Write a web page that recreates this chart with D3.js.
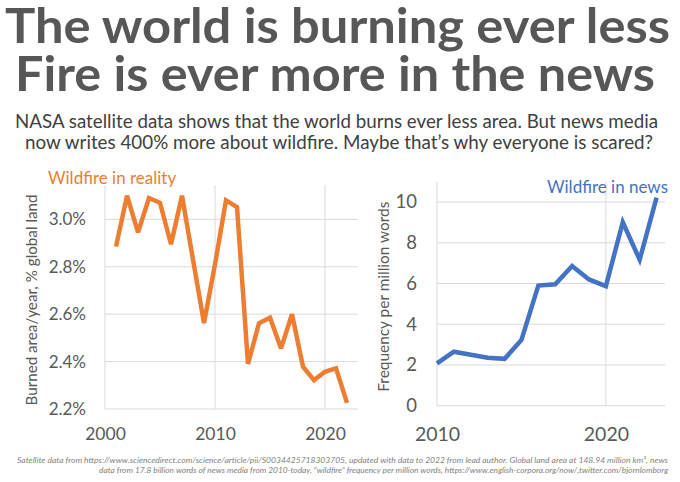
<!DOCTYPE html>
<html>
<head>
<meta charset="utf-8">
<script src="https://cdn.jsdelivr.net/npm/d3@7"></script>
<style>
  body { margin: 0; background: #fff; }
  svg text { font-family: Lato, "Open Sans", sans-serif; }
</style>
</head>
<body>
<div id="chart"></div>
<script>
// Burned area, % of global land per year (satellite)
const burnYears = [2001, 2002, 2003, 2004, 2005, 2006, 2007, 2008, 2009, 2010, 2011,
  2012, 2013, 2014, 2015, 2016, 2017, 2018, 2019, 2020, 2021, 2022];
const burnValues = [2.885, 3.10, 2.945, 3.09, 3.07, 2.895, 3.10, 2.83, 2.562, 2.81, 3.08,
  3.052, 2.39, 2.562, 2.585, 2.456, 2.60, 2.378, 2.322, 2.357, 2.372, 2.226];

// "wildfire" frequency per million words in news media
const newsYears = [2010, 2011, 2012, 2013, 2014, 2015, 2016, 2017, 2018, 2019, 2020,
  2021, 2022, 2023];
const newsValues = [2.08, 2.65, 2.50, 2.36, 2.30, 3.23, 5.90, 5.96, 6.86, 6.20, 5.87,
  9.01, 7.17, 10.22];

const burnYTicks = [2.2, 2.4, 2.6, 2.8, 3.0];
const burnXTicks = [2000, 2010, 2020];
const newsYTicks = [0, 2, 4, 6, 8, 10];
const newsXTicks = [2010, 2020];

const titleLines = ["The world is burning ever less", "Fire is ever more in the news"];
const subtitleLines = [
  "NASA satellite data shows that the world burns ever less area. But news media",
  "now writes 400% more about wildfire. Maybe that\u2019s why everyone is scared?"
];
const footLines = [
  "Satellite data from https://www.sciencedirect.com/science/article/pii/S0034425718303705, updated with data to 2022 from lead author. Global land area at 148.94 million km\u00b2, news",
  "data from 17.8 billion words of news media from 2010-today, \u201cwildfire\u201d frequency per million words, https://www.english-corpora.org/now/,twitter.com/bjornlomborg"
];

const W = 680, H = 482;
const gridColor = "#d9d9d9";
const textColor = "#595959";
const orange = "#ed7d31";
const blue = "#4472c4";

const svg = d3.select("#chart").append("svg")
  .attr("width", W)
  .attr("height", H);

// Titles
svg.append("g").selectAll("text")
  .data(titleLines)
  .join("text")
  .attr("x", (d, i) => i === 0 ? 5 : 15)
  .attr("y", (d, i) => i === 0 ? 43 : 91)
  .attr("textLength", (d, i) => i === 0 ? 665 : 640)
  .attr("lengthAdjust", "spacingAndGlyphs")
  .attr("font-size", 48)
  .attr("font-weight", "bold")
  .attr("fill", "#575757")
  .text(d => d);

svg.append("g").selectAll("text")
  .data(subtitleLines)
  .join("text")
  .attr("x", (d, i) => i === 0 ? 15 : 25)
  .attr("y", (d, i) => i === 0 ? 128 : 148.5)
  .attr("textLength", (d, i) => i === 0 ? 643 : 628)
  .attr("lengthAdjust", "spacingAndGlyphs")
  .attr("font-size", 19.5)
  .attr("fill", "#404040")
  .text(d => d);

// Footnote
svg.append("g").selectAll("text")
  .data(footLines)
  .join("text")
  .attr("x", 668)
  .attr("y", (d, i) => i === 0 ? 463 : 473)
  .attr("text-anchor", "end")
  .attr("textLength", (d, i) => i === 0 ? 651 : 569)
  .attr("lengthAdjust", "spacingAndGlyphs")
  .attr("font-size", 7.6)
  .attr("font-style", "italic")
  .attr("fill", "#7f7f7f")
  .text(d => d);

function drawPanel(opt) {
  const { x, y } = opt;
  const g = svg.append("g");
  const [x0, x1] = x.range();
  const [y0, y1] = y.range();

  // Horizontal gridlines
  g.append("g").selectAll("line")
    .data(opt.yTicks)
    .join("line")
    .attr("x1", x0).attr("x2", x1)
    .attr("y1", d => y(d)).attr("y2", d => y(d))
    .attr("stroke", gridColor)
    .attr("stroke-width", 1);

  // Vertical gridlines plus the left axis line
  g.append("g").selectAll("line")
    .data([x.domain()[0]].concat(opt.vLines))
    .join("line")
    .attr("x1", d => x(d)).attr("x2", d => x(d))
    .attr("y1", y1).attr("y2", y0)
    .attr("stroke", gridColor)
    .attr("stroke-width", 1);

  // Y axis labels
  const yAxis = g.append("g")
    .attr("transform", `translate(${x0},0)`)
    .call(d3.axisLeft(y).tickValues(opt.yTicks).tickSize(0)
      .tickPadding(opt.yPad).tickFormat(opt.yFormat));
  yAxis.select(".domain").remove();
  yAxis.selectAll("text")
    .attr("font-size", opt.yFont)
    .attr("fill", textColor)
    .style("font-family", 'Lato, "Open Sans", sans-serif');

  // X axis labels
  const xAxis = g.append("g")
    .attr("transform", `translate(0,${y0})`)
    .call(d3.axisBottom(x).tickValues(opt.xTicks).tickSize(0)
      .tickPadding(opt.xPad).tickFormat(d3.format("d")));
  xAxis.select(".domain").remove();
  xAxis.selectAll("text")
    .attr("font-size", opt.xFont)
    .attr("fill", textColor)
    .style("font-family", 'Lato, "Open Sans", sans-serif');

  // Axis title
  g.append("text")
    .attr("transform", `translate(${opt.titleX},${(y0 + y1) / 2 + 3}) rotate(-90)`)
    .attr("text-anchor", "middle")
    .attr("dominant-baseline", "middle")
    .attr("font-size", 15.5)
    .attr("textLength", opt.titleLen)
    .attr("lengthAdjust", "spacingAndGlyphs")
    .attr("fill", textColor)
    .text(opt.title);

  // Series line
  const line = d3.line()
    .x(d => x(d[0]))
    .y(d => y(d[1]));
  g.append("path")
    .datum(opt.years.map((yr, i) => [yr, opt.values[i]]))
    .attr("d", line)
    .attr("fill", "none")
    .attr("stroke", opt.color)
    .attr("stroke-width", 4.5)
    .attr("stroke-linejoin", "miter")
    .attr("stroke-miterlimit", 3);

  // Series label
  g.append("text")
    .attr("x", opt.labelX)
    .attr("y", opt.labelY)
    .attr("text-anchor", opt.labelAnchor)
    .attr("font-size", 17)
    .attr("fill", opt.color)
    .text(opt.label);
}

drawPanel({
  x: d3.scaleLinear().domain([2000, 2023]).range([105, 358]),
  y: d3.scaleLinear().domain([2.2, 3.145]).range([409, 185]),
  yTicks: burnYTicks,
  xTicks: burnXTicks,
  vLines: [2010, 2020],
  yFormat: d => d.toFixed(1) + "%",
  yPad: 19,
  xPad: 19,
  yFont: 17,
  xFont: 17.5,
  title: "Burned area/year, % global land",
  titleX: 33,
  titleLen: 211,
  years: burnYears,
  values: burnValues,
  color: orange,
  label: "Wildfire in reality",
  labelX: 48,
  labelY: 184,
  labelAnchor: "start"
});

drawPanel({
  x: d3.scaleLinear().domain([2010, 2023.5]).range([437, 665]),
  y: d3.scaleLinear().domain([0, 11]).range([405.7, 181.7]),
  yTicks: newsYTicks,
  xTicks: newsXTicks,
  vLines: [2020],
  yFormat: d3.format("d"),
  yPad: 20,
  xPad: 21,
  yFont: 18.5,
  xFont: 19.5,
  title: "Frequency per million words",
  titleX: 385,
  titleLen: 190,
  years: newsYears,
  values: newsValues,
  color: blue,
  label: "Wildfire in news",
  labelX: 668,
  labelY: 193,
  labelAnchor: "end"
});
</script>
</body>
</html>
